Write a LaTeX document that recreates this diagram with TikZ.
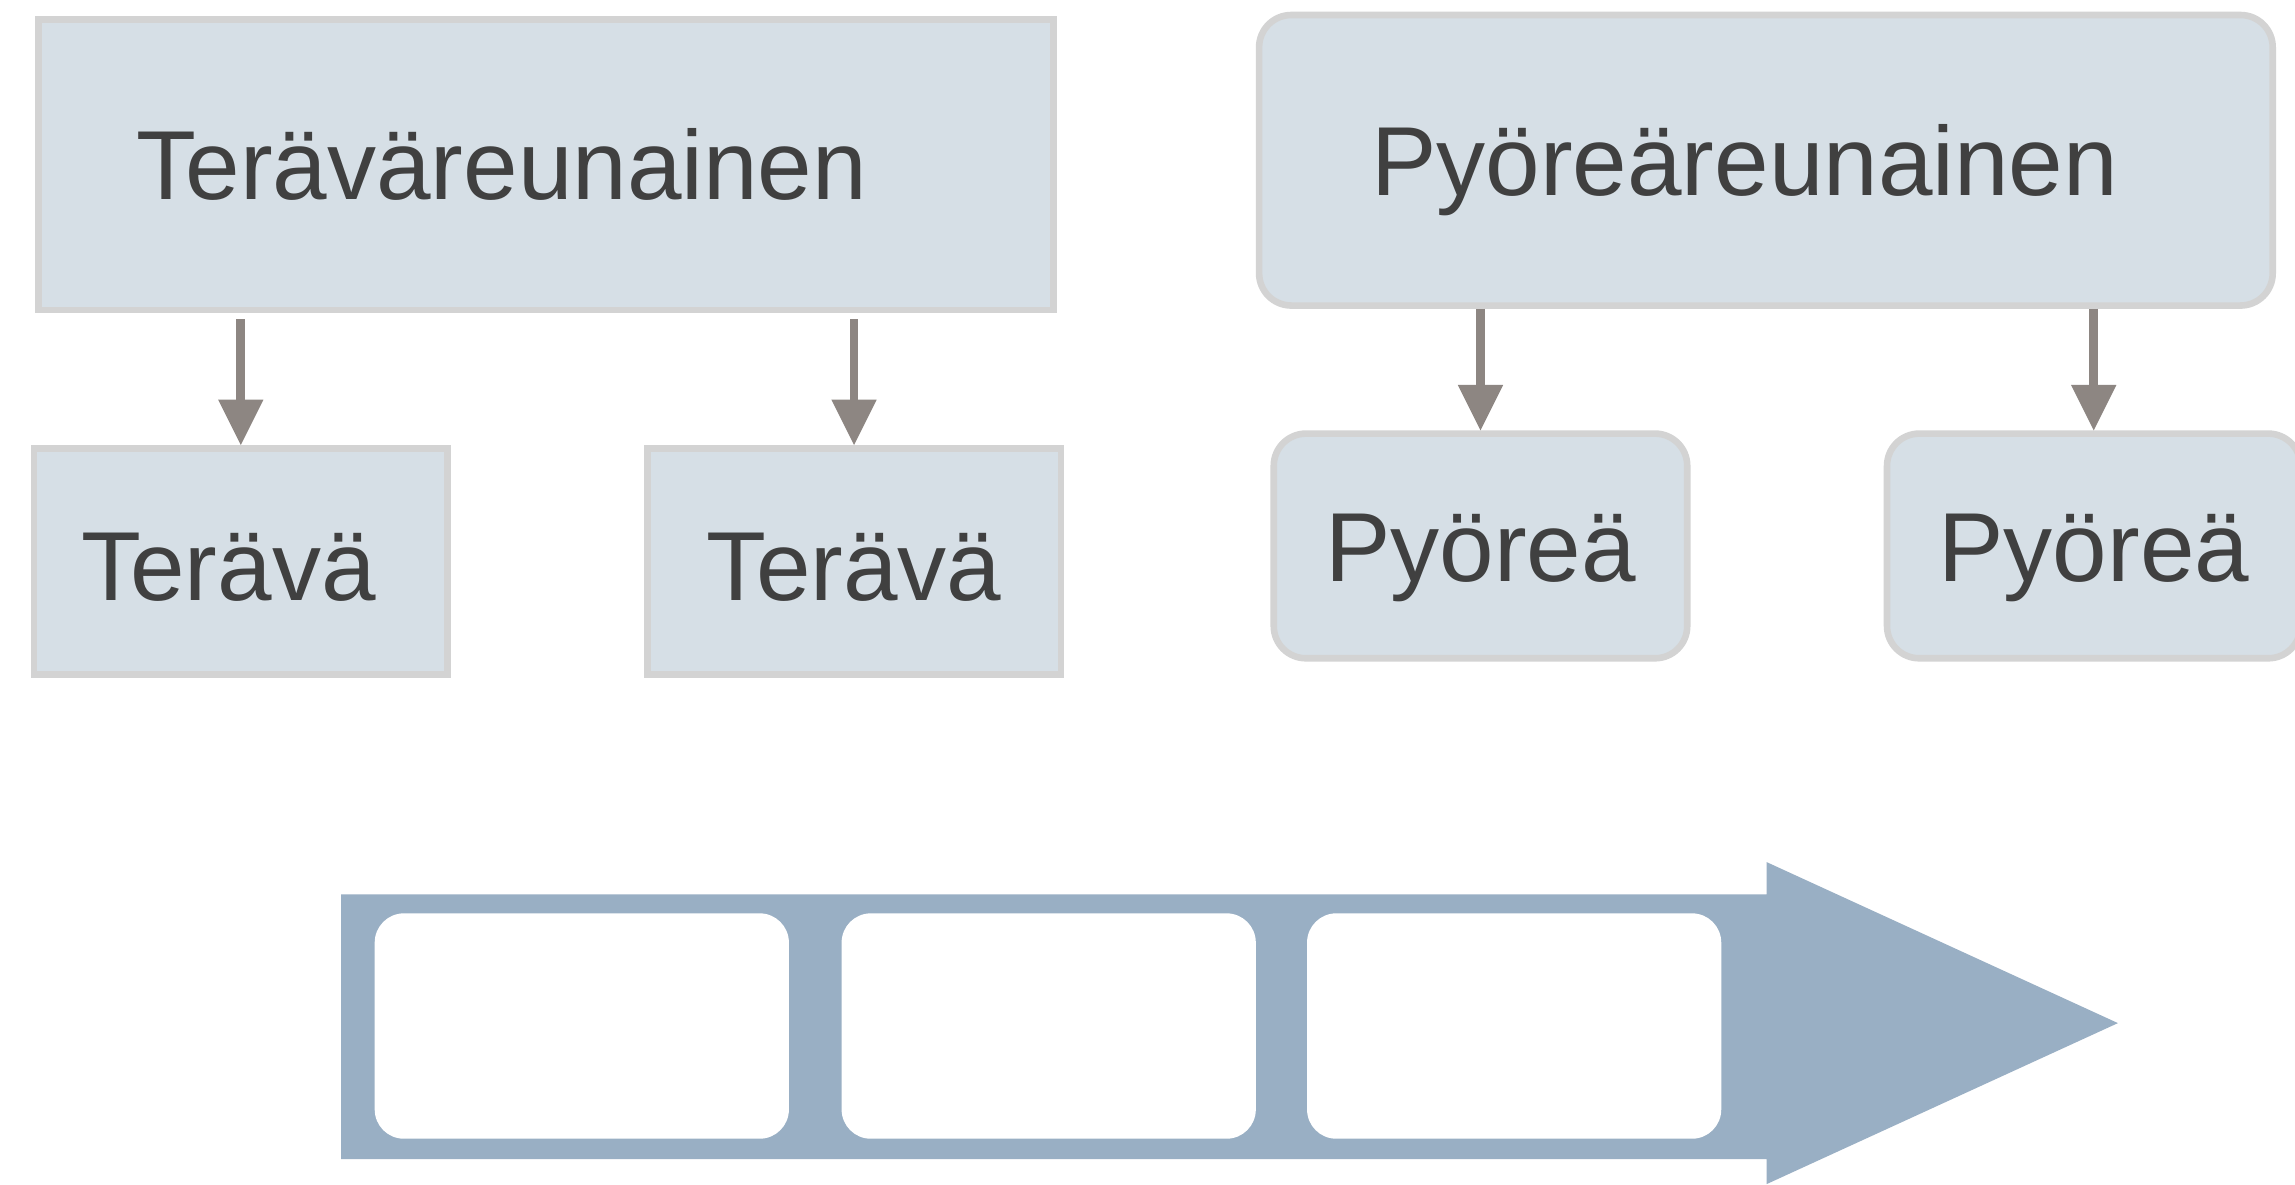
\documentclass[tikz,border=0pt]{standalone}
\usepackage{fontspec}
\setmainfont{Liberation Sans}
\usetikzlibrary{arrows.meta}
\definecolor{boxfill}{HTML}{D6DFE6}
\definecolor{boxline}{HTML}{D3D3D3}
\definecolor{arrowgray}{HTML}{8D8682}
\definecolor{bigarrow}{HTML}{99AFC4}
\definecolor{txt}{HTML}{404040}
\begin{document}
\begin{tikzpicture}[x=1pt,y=-1pt,
  boxbase/.style={draw=boxline, fill=boxfill, line width=4.5pt, text=txt,
    font=\fontsize{67}{80}\selectfont, inner sep=0pt, outer sep=0pt,
    text height=48pt, text depth=0pt},
  sharpbox/.style={boxbase},
  roundbox/.style={boxbase, rounded corners=22pt},
  link/.style={draw=arrowgray, line width=6pt,
    -{Triangle[width=31pt,length=31pt,line width=0pt]}},
  slot/.style={fill=white, rounded corners=20pt, inner sep=0pt, outer sep=0pt}
]
\useasboundingbox (0,0) rectangle (1568,809);
\fill[white] (0,0) rectangle (1568,809);

% sharp-cornered hierarchy
\node[sharpbox, minimum width=693.5pt, minimum height=198.5pt,
      text width=559.5pt, align=left, inner xsep=67pt] (A) at (373,112.5) {Teräväreunainen};
\node[sharpbox, minimum width=282.5pt, minimum height=154.5pt,
      text width=218pt, align=left, inner xsep=32.25pt, text height=53pt] (B1) at (164.5,383.5) {Terävä};
\node[sharpbox, minimum width=282.5pt, minimum height=154.5pt, text height=53pt] (B2) at (583.5,383.5) {Terävä};

% rounded hierarchy
\node[roundbox, minimum width=692.5pt, minimum height=198.5pt,
      text width=539.3pt, align=left, inner xsep=76.6pt] (C) at (1206.5,109.5) {Pyöreäreunainen};
\node[roundbox, minimum width=282.5pt, minimum height=153.5pt] (D1) at (1011.5,373) {Pyöreä};
\node[roundbox, minimum width=282.5pt, minimum height=153.5pt] (D2) at (1430.5,373) {Pyöreä};

% connectors
\draw[link, shorten <=6.25pt, shorten >=2.25pt] (A.south -| B1.north) -- (B1.north);
\draw[link, shorten <=6.25pt, shorten >=2.25pt] (A.south -| B2.north) -- (B2.north);
\draw[link, shorten <=2.25pt, shorten >=2.25pt] (C.south -| D1.north) -- (D1.north);
\draw[link, shorten <=2.25pt, shorten >=2.25pt] (C.south -| D2.north) -- (D2.north);

% process arrow
\fill[bigarrow] (233,611) -- (1207,611) -- (1207,589) -- (1447,699)
  -- (1207,809) -- (1207,792) -- (233,792) -- cycle;
\node[slot, minimum width=283pt, minimum height=154pt] (S1) at (397.5,701) {};
\node[slot, minimum width=283pt, minimum height=154pt] (S2) at (716.5,701) {};
\node[slot, minimum width=283pt, minimum height=154pt] (S3) at (1034.5,701) {};
\end{tikzpicture}
\end{document}
